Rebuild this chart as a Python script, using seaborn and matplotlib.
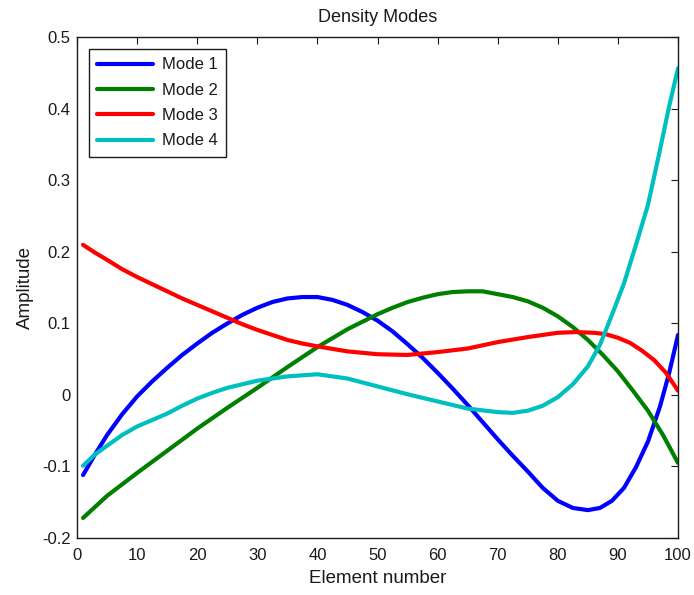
import numpy as np
import pandas as pd
import matplotlib
matplotlib.use('Agg')
import matplotlib.pyplot as plt
import seaborn as sns

# ── Data (element number vs. amplitude) ──────────────────────────────────────

MODE_1_X = [1, 3, 5, 7.5, 10, 12.5, 15, 17.5, 20, 22.5, 25, 27.5, 30, 32.5,
            35, 37.5, 40, 42.5, 45, 47.5, 50, 52.5, 55, 57.5, 60, 62.5, 65,
            67.5, 70, 72.5, 75, 77.5, 80, 82.5, 85, 87, 89, 91, 93, 95, 97,
            98.5, 100]
MODE_1_Y = [-0.112, -0.083, -0.056, -0.027, -0.002, 0.019, 0.038, 0.056,
            0.072, 0.087, 0.100, 0.112, 0.122, 0.130, 0.135, 0.137, 0.137,
            0.133, 0.126, 0.116, 0.104, 0.089, 0.071, 0.052, 0.031, 0.009,
            -0.014, -0.038, -0.062, -0.085, -0.107, -0.130, -0.148, -0.158,
            -0.161, -0.158, -0.148, -0.130, -0.101, -0.065, -0.016, 0.030,
            0.084]

MODE_2_X = [1, 5, 10, 15, 20, 25, 30, 35, 40, 45, 50, 52.5, 55, 57.5, 60,
            62.5, 65, 67.5, 70, 72.5, 75, 77.5, 80, 82.5, 85, 87.5, 90, 92.5,
            95, 97.5, 100]
MODE_2_Y = [-0.172, -0.141, -0.109, -0.078, -0.047, -0.018, 0.010, 0.039,
            0.067, 0.092, 0.113, 0.122, 0.130, 0.136, 0.141, 0.144, 0.145,
            0.145, 0.141, 0.137, 0.131, 0.122, 0.110, 0.095, 0.077, 0.056,
            0.033, 0.006, -0.022, -0.056, -0.095]

MODE_3_X = [1, 3, 5, 7.5, 10, 12.5, 15, 17.5, 20, 22.5, 25, 27.5, 30, 32.5,
            35, 37.5, 40, 45, 50, 55, 60, 65, 70, 75, 80, 83, 86, 88, 90, 92,
            94, 96, 98, 100]
MODE_3_Y = [0.210, 0.199, 0.189, 0.176, 0.165, 0.155, 0.145, 0.135, 0.126,
            0.117, 0.108, 0.099, 0.091, 0.084, 0.077, 0.072, 0.068, 0.061,
            0.057, 0.056, 0.060, 0.065, 0.074, 0.081, 0.087, 0.088, 0.087,
            0.085, 0.080, 0.073, 0.062, 0.049, 0.031, 0.006]

MODE_4_X = [1, 3, 5, 7.5, 10, 12.5, 15, 17.5, 20, 22.5, 25, 30, 35, 40, 45,
            50, 55, 60, 65, 70, 72.5, 75, 77.5, 80, 82.5, 85, 87, 89, 91, 93,
            95, 97, 98.5, 100]
MODE_4_Y = [-0.099, -0.083, -0.071, -0.056, -0.044, -0.035, -0.026, -0.015,
            -0.005, 0.003, 0.010, 0.020, 0.026, 0.029, 0.023, 0.012, 0.001,
            -0.009, -0.019, -0.024, -0.025, -0.022, -0.015, -0.003, 0.015,
            0.040, 0.070, 0.112, 0.156, 0.210, 0.266, 0.343, 0.403, 0.457]

MODE_NAMES = ['Mode 1', 'Mode 2', 'Mode 3', 'Mode 4']
MODE_COLORS = ['#0000ff', '#008000', '#ff0000', '#00bfbf']

# ── Style ─────────────────────────────────────────────────────────────────────

sns.set_style('white')
plt.rcParams.update({
    'font.family': ['Liberation Sans', 'DejaVu Sans'],
    'font.size': 12,
    'text.color': '#1a1a1a',
    'axes.labelcolor': '#1a1a1a',
    'xtick.direction': 'in',
    'ytick.direction': 'in',
    'xtick.top': True,
    'ytick.right': True,
    'xtick.major.size': 5,
    'ytick.major.size': 5,
    'xtick.major.width': 0.8,
    'ytick.major.width': 0.8,
    'xtick.major.pad': 7,
    'ytick.major.pad': 4.5,
    'xtick.labelsize': 12,
    'ytick.labelsize': 12,
    'xtick.color': '#1a1a1a',
    'ytick.color': '#1a1a1a',
    'axes.edgecolor': '#1a1a1a',
    'axes.linewidth': 1.0,
})

series = zip(MODE_NAMES,
             [MODE_1_X, MODE_2_X, MODE_3_X, MODE_4_X],
             [MODE_1_Y, MODE_2_Y, MODE_3_Y, MODE_4_Y])
df = pd.concat([pd.DataFrame({'element': xs, 'amplitude': ys, 'mode': name})
                for name, xs, ys in series], ignore_index=True)

fig = plt.figure(figsize=(6.94, 5.95), dpi=100)
ax = fig.add_axes([0.111, 0.0958, 0.866, 0.8412])

sns.lineplot(data=df, x='element', y='amplitude', hue='mode',
             palette=MODE_COLORS, linewidth=3, estimator=None,
             sort=False, ax=ax)

ax.set_xlim(0, 100)
ax.set_ylim(-0.2, 0.5)
ax.set_xticks(np.arange(0, 101, 10))
ax.set_yticks(np.round(np.arange(-0.2, 0.51, 0.1), 1))
ax.set_yticklabels(['-0.2', '-0.1', '0', '0.1', '0.2', '0.3', '0.4', '0.5'])
for side in ['top', 'right', 'left', 'bottom']:
    ax.spines[side].set_visible(True)

ax.set_title('Density Modes', fontsize=13, pad=11.4)
ax.set_xlabel('Element number', fontsize=13.5, labelpad=5.5)
ax.set_ylabel('Amplitude', fontsize=13.5, labelpad=6)

leg = ax.legend(loc='upper left', fontsize=12, handlelength=3.35,
                handletextpad=0.55, labelspacing=0.62, borderaxespad=0.7,
                borderpad=0.5, fancybox=False, framealpha=1,
                edgecolor='#1a1a1a')
leg.get_frame().set_linewidth(1.0)

fig.savefig('out.png', dpi=100, facecolor='white')
